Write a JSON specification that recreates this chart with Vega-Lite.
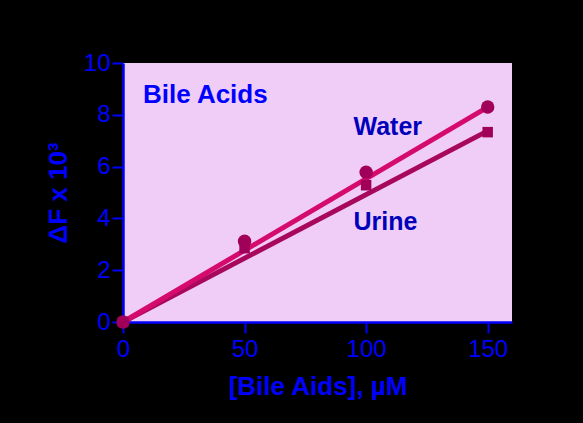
{
  "$schema": "https://vega.github.io/schema/vega-lite/v6.json",
  "width": 389,
  "height": 259,
  "autosize": {"type": "none"},
  "padding": {"left": 123, "top": 63, "right": 71, "bottom": 101},
  "background": "#000000",
  "config": {
    "view": {"fill": "#efcdf7", "stroke": null},
    "font": "Liberation Sans",
    "axis": {
      "domainColor": "#0000ff",
      "domainWidth": 2.5,
      "tickColor": "#0000ff",
      "tickWidth": 2,
      "tickSize": 11,
      "labelColor": "#0000ff",
      "labelFont": "Liberation Sans",
      "labelFontSize": 24,
      "labelFontWeight": "normal",
      "labelFlush": false,
      "labelOverlap": false,
      "titleColor": "#0000ff",
      "titleFont": "Liberation Sans",
      "titleFontWeight": "bold",
      "titleFontSize": 26,
      "grid": false
    }
  },
  "datasets": {
    "points": [
      {"series": "Water", "conc": 0, "dF": 0},
      {"series": "Water", "conc": 50, "dF": 3.12},
      {"series": "Water", "conc": 100, "dF": 5.78},
      {"series": "Water", "conc": 150, "dF": 8.3},
      {"series": "Urine", "conc": 0, "dF": 0},
      {"series": "Urine", "conc": 50, "dF": 2.85},
      {"series": "Urine", "conc": 100, "dF": 5.28},
      {"series": "Urine", "conc": 150, "dF": 7.33}
    ],
    "fits": [
      {"series": "Urine", "conc": 0, "dF": 0},
      {"series": "Urine", "conc": 150, "dF": 7.38},
      {"series": "Water", "conc": 0, "dF": 0},
      {"series": "Water", "conc": 150, "dF": 8.3}
    ],
    "title": [
      {"label": "Bile Acids", "conc": 8.2, "dF": 8.45}
    ],
    "labels": [
      {"label": "Water", "conc": 94.8, "dF": 7.22},
      {"label": "Urine", "conc": 94.8, "dF": 3.55}
    ]
  },
  "layer": [
    {
      "data": {"name": "fits"},
      "mark": {"type": "line", "strokeWidth": 5},
      "encoding": {
        "x": {
          "field": "conc", "type": "quantitative",
          "scale": {"domain": [0, 160], "nice": false, "zero": false},
          "axis": {"title": "[Bile Aids], µM", "values": [0, 50, 100, 150], "labelPadding": 4, "titlePadding": 12}
        },
        "y": {
          "field": "dF", "type": "quantitative",
          "scale": {"domain": [0, 10], "nice": false},
          "axis": {"title": "ΔF x 10³", "values": [0, 2, 4, 6, 8, 10], "labelPadding": 2, "titlePadding": 12}
        },
        "detail": {"field": "series"},
        "color": {
          "field": "series", "type": "nominal",
          "scale": {"domain": ["Water", "Urine"], "range": ["#d40a6c", "#a8085c"]},
          "legend": null
        }
      }
    },
    {
      "data": {"name": "points"},
      "mark": {"type": "point", "filled": true, "opacity": 1, "color": "#a0005a"},
      "encoding": {
        "x": {"field": "conc", "type": "quantitative"},
        "y": {"field": "dF", "type": "quantitative"},
        "shape": {
          "field": "series", "type": "nominal",
          "scale": {"domain": ["Water", "Urine"], "range": ["circle", "square"]},
          "legend": null
        },
        "size": {
          "field": "series", "type": "nominal",
          "scale": {"domain": ["Water", "Urine"], "range": [180, 110]},
          "legend": null
        }
      }
    },
    {
      "data": {"name": "title"},
      "mark": {"type": "text", "align": "left", "baseline": "alphabetic", "fontWeight": "bold", "fontSize": 26, "font": "Liberation Sans", "color": "#0000ff"},
      "encoding": {
        "x": {"field": "conc", "type": "quantitative"},
        "y": {"field": "dF", "type": "quantitative"},
        "text": {"field": "label"}
      }
    },
    {
      "data": {"name": "labels"},
      "mark": {"type": "text", "align": "left", "baseline": "alphabetic", "fontWeight": "bold", "fontSize": 25, "font": "Liberation Sans", "color": "#0000bb"},
      "encoding": {
        "x": {"field": "conc", "type": "quantitative"},
        "y": {"field": "dF", "type": "quantitative"},
        "text": {"field": "label"}
      }
    }
  ]
}
